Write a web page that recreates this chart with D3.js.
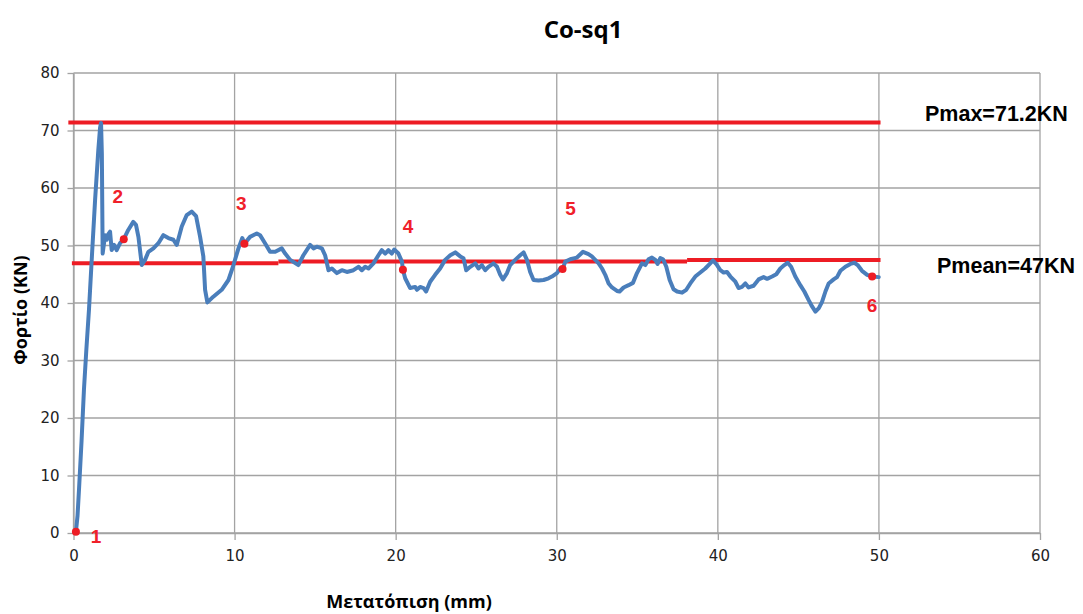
<!DOCTYPE html>
<html>
<head>
<meta charset="utf-8">
<script src="https://cdn.jsdelivr.net/npm/d3@7"></script>
<style>
  body { margin: 0; background: #fff; }
  .tick text { font-family: "DejaVu Sans", Verdana, sans-serif; font-size: 15px; fill: #222; }
</style>
</head>
<body>
<div id="chart"></div>
<script>
// displacement (mm), load (kN)
const curve = [
  [0.15,0.2],[0.25,3],[0.35,8],[0.5,16],[0.65,25],[0.8,32],[0.96,38.8],[1.15,48.5],[1.34,57.9],[1.54,66.6],
  [1.65,70.5],[1.71,71.3],[1.76,66],[1.81,48.6],[1.96,51.8],[2.06,51.0],[2.12,51.8],[2.27,52.4],[2.37,49.2],[2.53,50.1],
  [2.68,49.2],[2.89,50.4],[3.12,51.1],[3.40,52.7],[3.71,54.1],[3.88,53.6],[4.03,51.5],[4.24,46.6],[4.44,47.5],[4.65,48.9],
  [4.96,49.5],[5.27,50.4],[5.58,51.8],[5.89,51.3],[6.20,51.0],[6.41,50.1],[6.72,53.3],[7.03,55.3],[7.34,55.9],[7.61,55.1],
  [7.86,51.5],[8.06,48.1],[8.17,42.3],[8.31,40.1],[8.68,41.1],[9.20,42.3],[9.62,44.0],[9.93,46.6],[10.24,49.5],[10.48,51.3],
  [10.61,50.3],[10.96,51.5],[11.38,52.1],[11.58,51.8],[11.89,50.4],[12.2,48.9],[12.52,48.9],[12.93,49.5],[13.14,48.6],[13.45,47.5],
  [13.96,46.6],[14.27,48.3],[14.69,50.1],[14.90,49.5],[15.1,49.8],[15.42,49.5],[15.62,48.3],[15.83,45.7],[16.04,46.0],[16.35,45.2],
  [16.66,45.7],[16.97,45.4],[17.38,45.7],[17.69,46.3],[17.90,45.7],[18.11,46.3],[18.31,46.0],[18.62,46.9],[18.93,48.3],[19.14,49.2],
  [19.35,48.6],[19.55,49.2],[19.76,48.6],[19.91,49.3],[20.17,48.6],[20.39,47.2],[20.45,45.8],[20.59,44.3],[20.9,42.6],[21.21,42.8],
  [21.32,42.3],[21.52,42.8],[21.73,42.6],[21.89,42.0],[22.14,43.7],[22.45,44.9],[22.76,46.0],[23.07,47.5],[23.39,48.3],[23.7,48.8],
  [24.01,48.1],[24.21,47.8],[24.38,45.7],[24.63,46.3],[24.94,46.9],[25.14,46.0],[25.35,46.6],[25.56,45.7],[25.76,46.3],[26.07,46.9],
  [26.29,46.3],[26.49,44.9],[26.66,44.1],[26.91,45.2],[27.11,46.6],[27.42,47.5],[27.73,48.3],[27.94,48.8],[28.15,47.5],[28.35,45.4],
  [28.56,44.0],[28.87,43.9],[29.18,44.0],[29.49,44.3],[29.7,44.6],[30.01,45.2],[30.22,46.0],[30.36,45.9],[30.53,47.2],[30.84,47.6],
  [31.25,47.9],[31.63,48.9],[31.97,48.5],[32.18,48.1],[32.39,47.5],[32.6,46.9],[32.81,46.0],[33.01,44.9],[33.22,43.4],[33.43,42.7],
  [33.74,42.1],[33.9,42.0],[34.15,42.7],[34.46,43.1],[34.73,43.5],[34.98,45.2],[35.29,46.9],[35.5,46.6],[35.7,47.6],[35.91,47.9],
  [36.12,47.5],[36.26,46.8],[36.43,47.8],[36.6,47.6],[36.8,46.3],[37.01,44.0],[37.25,42.4],[37.47,42.0],[37.78,41.8],[38.04,42.3],
  [38.29,43.4],[38.6,44.6],[38.91,45.3],[39.22,46.0],[39.53,46.9],[39.7,47.4],[39.95,46.6],[40.16,45.7],[40.36,45.3],[40.57,45.4],
  [40.78,44.6],[41.09,43.7],[41.29,42.6],[41.5,42.8],[41.71,43.4],[41.91,42.7],[42.22,43.0],[42.53,44.1],[42.84,44.5],[43.06,44.2],
  [43.37,44.6],[43.63,45.0],[43.88,46.0],[44.13,46.6],[44.34,47.0],[44.55,46.3],[44.81,44.6],[45.12,43.1],[45.37,42.0],[45.64,40.5],
  [45.85,39.4],[46.06,38.5],[46.27,39.1],[46.47,40.2],[46.68,42.0],[46.88,43.4],[47.19,44.1],[47.4,44.5],[47.61,45.6],[47.92,46.3],
  [48.23,46.8],[48.48,47.0],[48.68,46.6],[48.95,45.6],[49.27,44.9],[49.58,44.6],[49.99,44.5]
];

// numbered stages on the curve
const stageNames = ['1', '2', '3', '4', '5', '6'];
const stagePoints = [[0.15, 0.2], [3.12, 51.1], [10.61, 50.3], [20.45, 45.8], [30.36, 45.9], [49.58, 44.6]];
const stageLabelOffsets = [[20, 11], [-6, -36], [-3, -34], [5, -37], [8, -54], [0, 35]];

// reference lines [from, to, load]
const pmaxSegments = [[-0.32, 50.1, 71.4]];
const pmeanSegments = [[-0.1, 12.72, 46.9], [12.72, 38.09, 47.2], [38.09, 50.1, 47.5]];

const xTicks = [0, 10, 20, 30, 40, 50, 60];
const yTicks = [0, 10, 20, 30, 40, 50, 60, 70, 80];

const width = 1083;
const height = 614;
const plotLeft = 73.5, plotRight = 1040, plotTop = 73, plotBottom = 533;

const svg = d3.select('#chart')
    .append('svg')
    .attr('width', width)
    .attr('height', height)
    .style('background', '#fff');

const x = d3.scaleLinear().domain([0, 60]).range([plotLeft, plotRight]);
const y = d3.scaleLinear().domain([0, 80]).range([plotBottom, plotTop]);

// grid
svg.append('g')
    .selectAll('line')
    .data(yTicks)
    .join('line')
    .attr('x1', plotLeft).attr('x2', plotRight)
    .attr('y1', d => y(d)).attr('y2', d => y(d))
    .attr('stroke', '#a3a3a3').attr('stroke-width', 1.3);

svg.append('g')
    .selectAll('line')
    .data(xTicks)
    .join('line')
    .attr('x1', d => x(d)).attr('x2', d => x(d))
    .attr('y1', plotTop).attr('y2', plotBottom)
    .attr('stroke', '#a3a3a3').attr('stroke-width', 1.3);

const xAxis = d3.axisBottom(x).tickValues(xTicks).tickSizeInner(7).tickSizeOuter(0).tickPadding(10);
const yAxis = d3.axisLeft(y).tickValues(yTicks).tickSizeInner(6).tickSizeOuter(0).tickPadding(8);

const gx = svg.append('g')
    .attr('transform', `translate(0, ${plotBottom})`)
    .call(xAxis);
const gy = svg.append('g')
    .attr('transform', `translate(${plotLeft}, 0)`)
    .call(yAxis);
[gx, gy].forEach(g => {
    g.select('.domain').attr('stroke', '#a3a3a3').attr('stroke-width', 1.3);
    g.selectAll('.tick line').attr('stroke', '#a3a3a3').attr('stroke-width', 1.3);
});

// red reference lines
const refLines = pmaxSegments.concat(pmeanSegments);
svg.append('g')
    .selectAll('line')
    .data(refLines)
    .join('line')
    .attr('x1', d => x(d[0])).attr('x2', d => x(d[1]))
    .attr('y1', d => y(d[2])).attr('y2', d => y(d[2]))
    .attr('stroke', '#ed1c24').attr('stroke-width', 4);

// load-displacement curve
const line = d3.line().x(d => x(d[0])).y(d => y(d[1]));
svg.append('path')
    .datum(curve)
    .attr('d', line)
    .attr('fill', 'none')
    .attr('stroke', '#4a7ebb')
    .attr('stroke-width', 4)
    .attr('stroke-linejoin', 'round')
    .attr('stroke-linecap', 'round');

// stage markers
svg.append('g')
    .selectAll('circle')
    .data(stagePoints)
    .join('circle')
    .attr('cx', d => x(d[0]))
    .attr('cy', d => y(d[1]))
    .attr('r', 4)
    .attr('fill', '#ed1c24');

svg.append('g')
    .selectAll('text')
    .data(stageNames)
    .join('text')
    .attr('x', (d, i) => x(stagePoints[i][0]) + stageLabelOffsets[i][0])
    .attr('y', (d, i) => y(stagePoints[i][1]) + stageLabelOffsets[i][1])
    .attr('text-anchor', 'middle')
    .style('font-family', '"Liberation Sans", Arial, sans-serif')
    .style('font-size', '19px')
    .style('font-weight', 'bold')
    .style('fill', '#f0202a')
    .text(d => d);

// annotations
svg.append('text')
    .attr('x', 925).attr('y', 121)
    .style('font-family', '"Liberation Sans", Arial, sans-serif')
    .style('font-size', '21.5px').style('font-weight', 'bold')
    .text(`Pmax=71.2KN`);

svg.append('text')
    .attr('x', 937).attr('y', 273)
    .style('font-family', '"Liberation Sans", Arial, sans-serif')
    .style('font-size', '21.5px').style('font-weight', 'bold')
    .text(`Pmean=47KN`);

// titles
svg.append('text')
    .attr('x', 583).attr('y', 38)
    .attr('text-anchor', 'middle')
    .style('font-family', '"Open Sans", sans-serif')
    .style('font-size', '24px').style('font-weight', 'bold')
    .text('Co-sq1');

svg.append('text')
    .attr('x', 409).attr('y', 608)
    .attr('text-anchor', 'middle')
    .style('font-family', '"Open Sans", sans-serif')
    .style('font-size', '18px').style('font-weight', 'bold')
    .text('Μετατόπιση (mm)');

svg.append('text')
    .attr('transform', 'translate(27, 310) rotate(-90)')
    .attr('text-anchor', 'middle')
    .style('font-family', '"Open Sans", sans-serif')
    .style('font-size', '18px').style('font-weight', 'bold')
    .text('Φορτίο  (KN)');
</script>
</body>
</html>
